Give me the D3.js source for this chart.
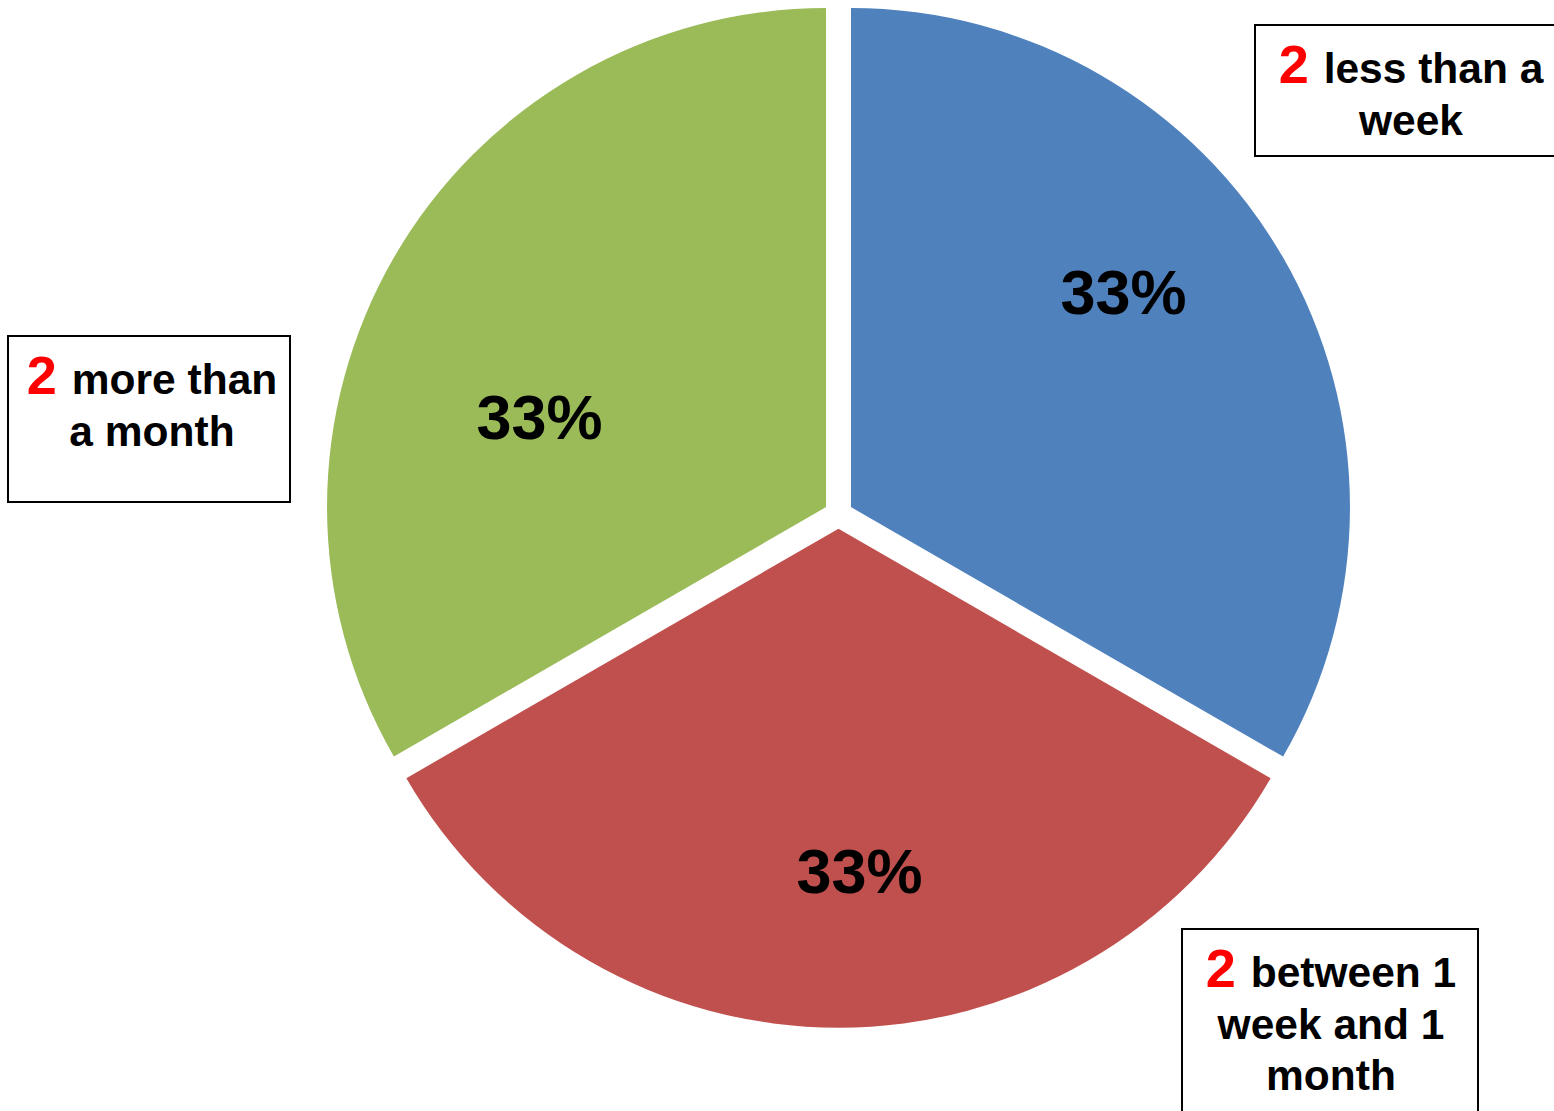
<!DOCTYPE html>
<html>
<head>
<meta charset="utf-8">
<script src="https://d3js.org/d3.v7.min.js"></script>
<style>
  html, body { margin: 0; padding: 0; background: #fff; overflow: hidden; }
  svg { display: block; }
  text { font-family: "Liberation Sans", Arial, sans-serif; font-weight: bold; }
</style>
</head>
<body>
<svg id="chart" width="1554" height="1111"></svg>
<script>
// ---- data ----
const categories = ["less than a week", "between 1 week and 1 month", "more than a month"];
const counts = [2, 2, 2];
const calloutLines = [
  ["less than a", "week"],
  ["between 1", "week and 1", "month"],
  ["more than", "a month"]
];
const colors = ["#4F81BD", "#C0504D", "#9BBB59"];

// ---- layout ----
const W = 1554, H = 1111;
const cx = 838.5, cy = 514.3, R = 499, explode = 14.4;
// label placement (relative to the pie centre)
const pctOffsets = [[285, -200], [21, 379], [-299, -75]];
const boxes = [
  {x: 1255, y: 25, w: 312, h: 131},
  {x: 1182, y: 929, w: 296, h: 200},
  {x: 8, y: 336, w: 282, h: 166}
];
const textCenters = [1411, 1331, 152];

const svg = d3.select("#chart");
const total = d3.sum(counts);
const pie = d3.pie().sort(null).value(d => d).startAngle(0).endAngle(2 * Math.PI);
const arcs = pie(counts);
const arc = d3.arc().innerRadius(0).outerRadius(R);

const g = svg.append("g").attr("transform", `translate(${cx},${cy})`);
g.selectAll("path").data(arcs).join("path")
  .attr("d", arc)
  .attr("fill", (d, i) => colors[i])
  .attr("transform", d => {
    const a = (d.startAngle + d.endAngle) / 2;
    return `translate(${explode * Math.sin(a)},${-explode * Math.cos(a)})`;
  });

const fmt = d3.format(".0%");
g.selectAll("text.pct").data(arcs).join("text")
  .attr("class", "pct")
  .attr("x", (d, i) => pctOffsets[i][0])
  .attr("y", (d, i) => pctOffsets[i][1])
  .attr("text-anchor", "middle")
  .attr("font-size", 63)
  .attr("fill", "#000")
  .text(d => fmt(Math.floor(d.value / total * 100) / 100));

// callout boxes
const lineH = 51.5;
boxes.forEach((b, i) => {
  svg.append("rect")
    .attr("x", b.x).attr("y", b.y).attr("width", b.w).attr("height", b.h)
    .attr("fill", "#fff").attr("stroke", "#000").attr("stroke-width", 2);
  const t = svg.append("text")
    .attr("text-anchor", "middle")
    .attr("font-size", 42.5)
    .attr("fill", "#000");
  calloutLines[i].forEach((line, j) => {
    const ts = t.append("tspan")
      .attr("x", textCenters[i])
      .attr("y", b.y + 58 + j * lineH);
    if (j === 0) {
      ts.append("tspan").attr("fill", "#FF0000").attr("font-size", 54).text(counts[i] + " ");
      ts.append("tspan").text(line);
    } else {
      ts.text(line);
    }
  });
});
</script>
</body>
</html>
